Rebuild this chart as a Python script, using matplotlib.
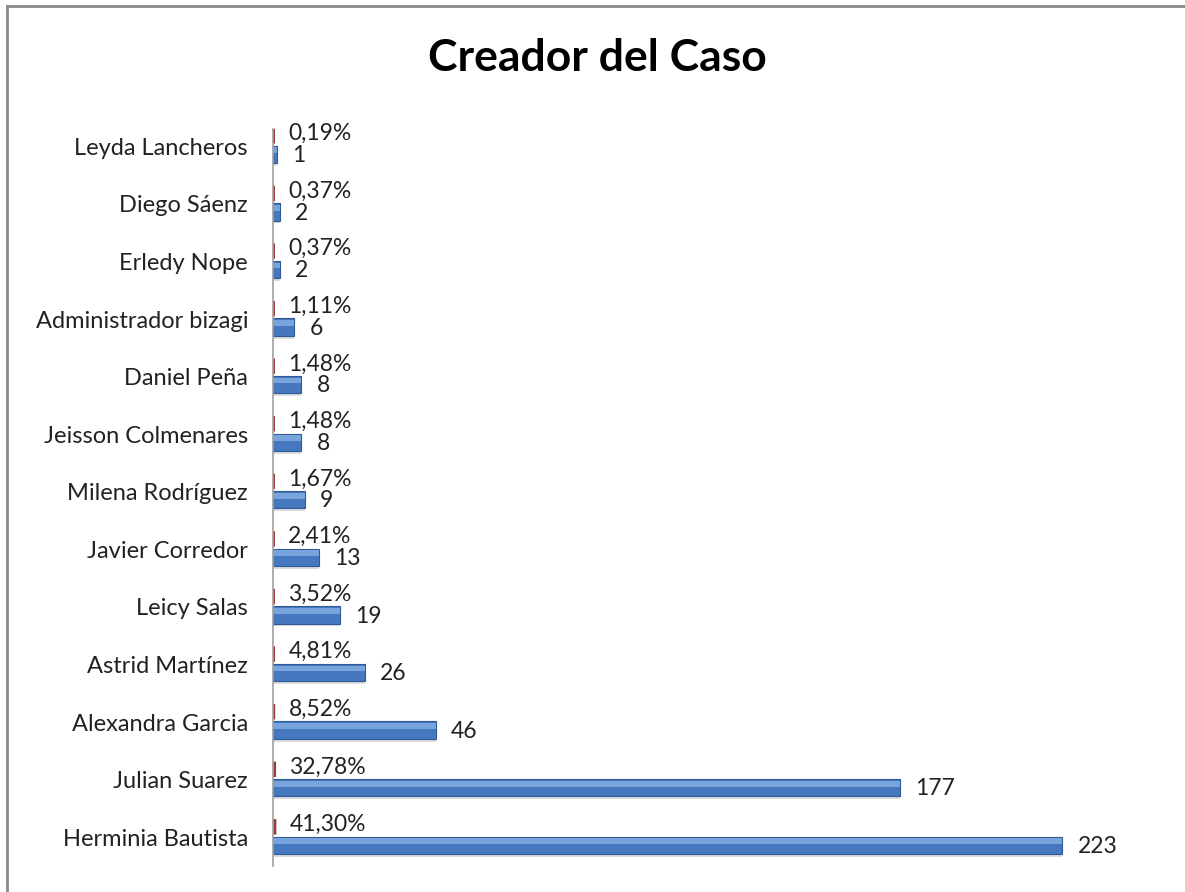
import matplotlib.pyplot as plt
from matplotlib.lines import Line2D

# data (bottom to top)
names = ['Herminia Bautista', 'Julian Suarez', 'Alexandra Garcia', 'Astrid Martínez',
         'Leicy Salas', 'Javier Corredor', 'Milena Rodríguez', 'Jeisson Colmenares',
         'Daniel Peña', 'Administrador bizagi', 'Erledy Nope', 'Diego Sáenz',
         'Leyda Lancheros']
counts = [223, 177, 46, 26, 19, 13, 9, 8, 8, 6, 2, 2, 1]
pcts = [41.30, 32.78, 8.52, 4.81, 3.52, 2.41, 1.67, 1.48, 1.48, 1.11, 0.37, 0.37, 0.19]

plt.rcParams['font.family'] = ['Lato', 'DejaVu Sans']

fig = plt.figure(figsize=(11.85, 8.92), dpi=100)
ax = fig.add_axes([273 / 1185, 1 - 866 / 892, 885 / 1185, 737 / 892])

ypos = list(range(len(names)))
yb = [y - 0.14 for y in ypos]
yr = [y + 0.18 for y in ypos]

# blue series with a fake 3d look
ax.barh([y - 0.04 for y in yb], counts, height=0.32, color='#b0b0b0', alpha=0.45, zorder=1)
ax.barh(yb, counts, height=0.3, color='#4578be', edgecolor='#2f5a94', linewidth=0.8, zorder=2)
ax.barh([y + 0.07 for y in yb], counts, height=0.1, color='#78a4dc', linewidth=0, zorder=3)

# red series (percent as fraction, almost zero length)
ax.barh(yr, [p / 100 for p in pcts], left=0.3, height=0.24, color='#9b3b3b',
        edgecolor='#9b3b3b', linewidth=1.2, zorder=2, snap=False)

for y, c, p in zip(ypos, counts, pcts):
    ax.annotate(str(c), (c, y - 0.16), xytext=(11, 0), textcoords='offset points',
                ha='left', va='center', fontsize=16.5, color='#222222')
    ax.annotate(f'{p:.2f}%'.replace('.', ','), (p / 100, y + 0.22), xytext=(11, 0),
                textcoords='offset points', ha='left', va='center', fontsize=16.5,
                color='#222222')

ax.set_xlim(0, 250)
ax.set_ylim(-0.5, len(names) - 0.7)
ax.set_yticks(ypos)
ax.set_yticklabels(names, fontsize=17, color='#222222')
ax.tick_params(axis='y', length=0, pad=18)
ax.set_xticks([])
for s in ['top', 'right', 'bottom']:
    ax.spines[s].set_visible(False)
ax.spines['left'].set_color('#a0a0a0')
ax.spines['left'].set_linewidth(1.2)

fig.text(597 / 1185, 1 - 58 / 892, 'Creador del Caso', ha='center', va='center',
         fontsize=32, fontweight='bold', color='black')

# chart frame (top and left edges visible)
fig.add_artist(Line2D([7 / 1185, 1], [1 - 6 / 892, 1 - 6 / 892], color='#8a8a8a', lw=2))
fig.add_artist(Line2D([7 / 1185, 7 / 1185], [0, 1 - 6 / 892], color='#8a8a8a', lw=2))

fig.savefig('out.png', dpi=100)
